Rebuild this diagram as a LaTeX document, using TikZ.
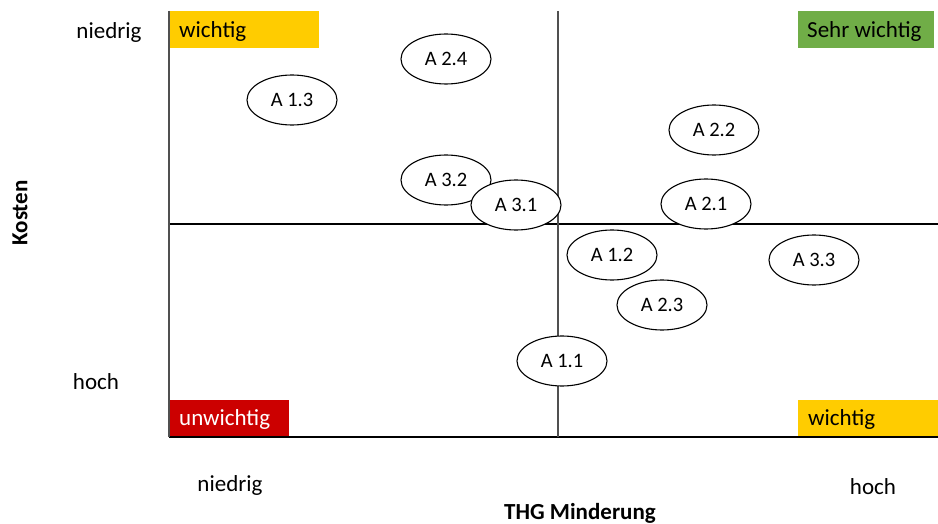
\documentclass[tikz,border=0pt]{standalone}
\usepackage{fontspec}
\setmainfont{Carlito}
\usetikzlibrary{shapes.geometric}
\definecolor{amber}{HTML}{FFCC00}
\definecolor{leaf}{HTML}{70AD47}
\definecolor{signal}{HTML}{CC0000}
\definecolor{axisgray}{HTML}{505050}
\tikzset{
  lbl/.style={font=\fontsize{23}{27}\selectfont, inner sep=0pt},
  axtitle/.style={font=\fontsize{23}{27}\selectfont\bfseries, inner sep=0pt},
  quad/.style={inner sep=0pt, font=\fontsize{23}{27}\selectfont},
  measure/.style={ellipse, draw, fill=white, line width=1.1pt, minimum width=90pt, minimum height=50pt, inner sep=0pt, font=\fontsize{20.5}{24}\selectfont},
  vline/.style={draw=axisgray, line width=2pt},
  hline/.style={draw=black, line width=1.6pt}
}
\begin{document}
\begin{tikzpicture}[x=1pt,y=-1pt]
\useasboundingbox[fill=white] (0,0) rectangle (938,524);

% frame coordinates
\coordinate (tl) at (169,11);
\coordinate (bl) at (169,437);
\coordinate (br) at (938,437);
\coordinate (mt) at (558,11);
\coordinate (mb) at (558,437);
\coordinate (ml) at (169,224);
\coordinate (mr) at (938,224);

% quadrant colour boxes
\fill[amber] (170,11) rectangle (319,48);
\node[quad, anchor=west] (q1) at (179,31.5) {wichtig};
\fill[leaf] (798,11) rectangle (934,48);
\node[quad, anchor=west] (q2) at (807,31.5) {Sehr wichtig};
\fill[signal] (169,400) rectangle (289,437);
\node[quad, anchor=west, text=white] (q3) at (179,419.5) {unwichtig};
\fill[amber] (798,400) rectangle (938,437);
\node[quad, anchor=west] (q4) at (808,419.5) {wichtig};

% axes and quadrant dividers
\draw[hline] (ml) -- (mr);
\draw[hline] (bl) -- (br);
\draw[vline] (tl) -- (bl);
\draw[vline] (mt) -- (mb);

% measures
\node[measure] (a24) at (446,59) {A 2.4};
\node[measure] (a13) at (292,100) {A 1.3};
\node[measure] (a22) at (714,130) {A 2.2};
\node[measure] (a32) at (446,180) {A 3.2};
\node[measure] (a31) at (516,205) {A 3.1};
\node[measure] (a21) at (706,204) {A 2.1};
\node[measure] (a12) at (612,255) {A 1.2};
\node[measure] (a33) at (814,260) {A 3.3};
\node[measure] (a23) at (662,305) {A 2.3};
\node[measure] (a11) at (562,361) {A 1.1};

% axis labels
\node[lbl] (ylo) at (109,32) {niedrig};
\node[lbl] (yhi) at (96,382) {hoch};
\node[lbl] (xlo) at (230,485) {niedrig};
\node[lbl] (xhi) at (873,487) {hoch};
\node[axtitle] (xt) at (580,513) {THG Minderung};
\node[axtitle, rotate=90] (yt) at (20,213) {Kosten};
\end{tikzpicture}
\end{document}
